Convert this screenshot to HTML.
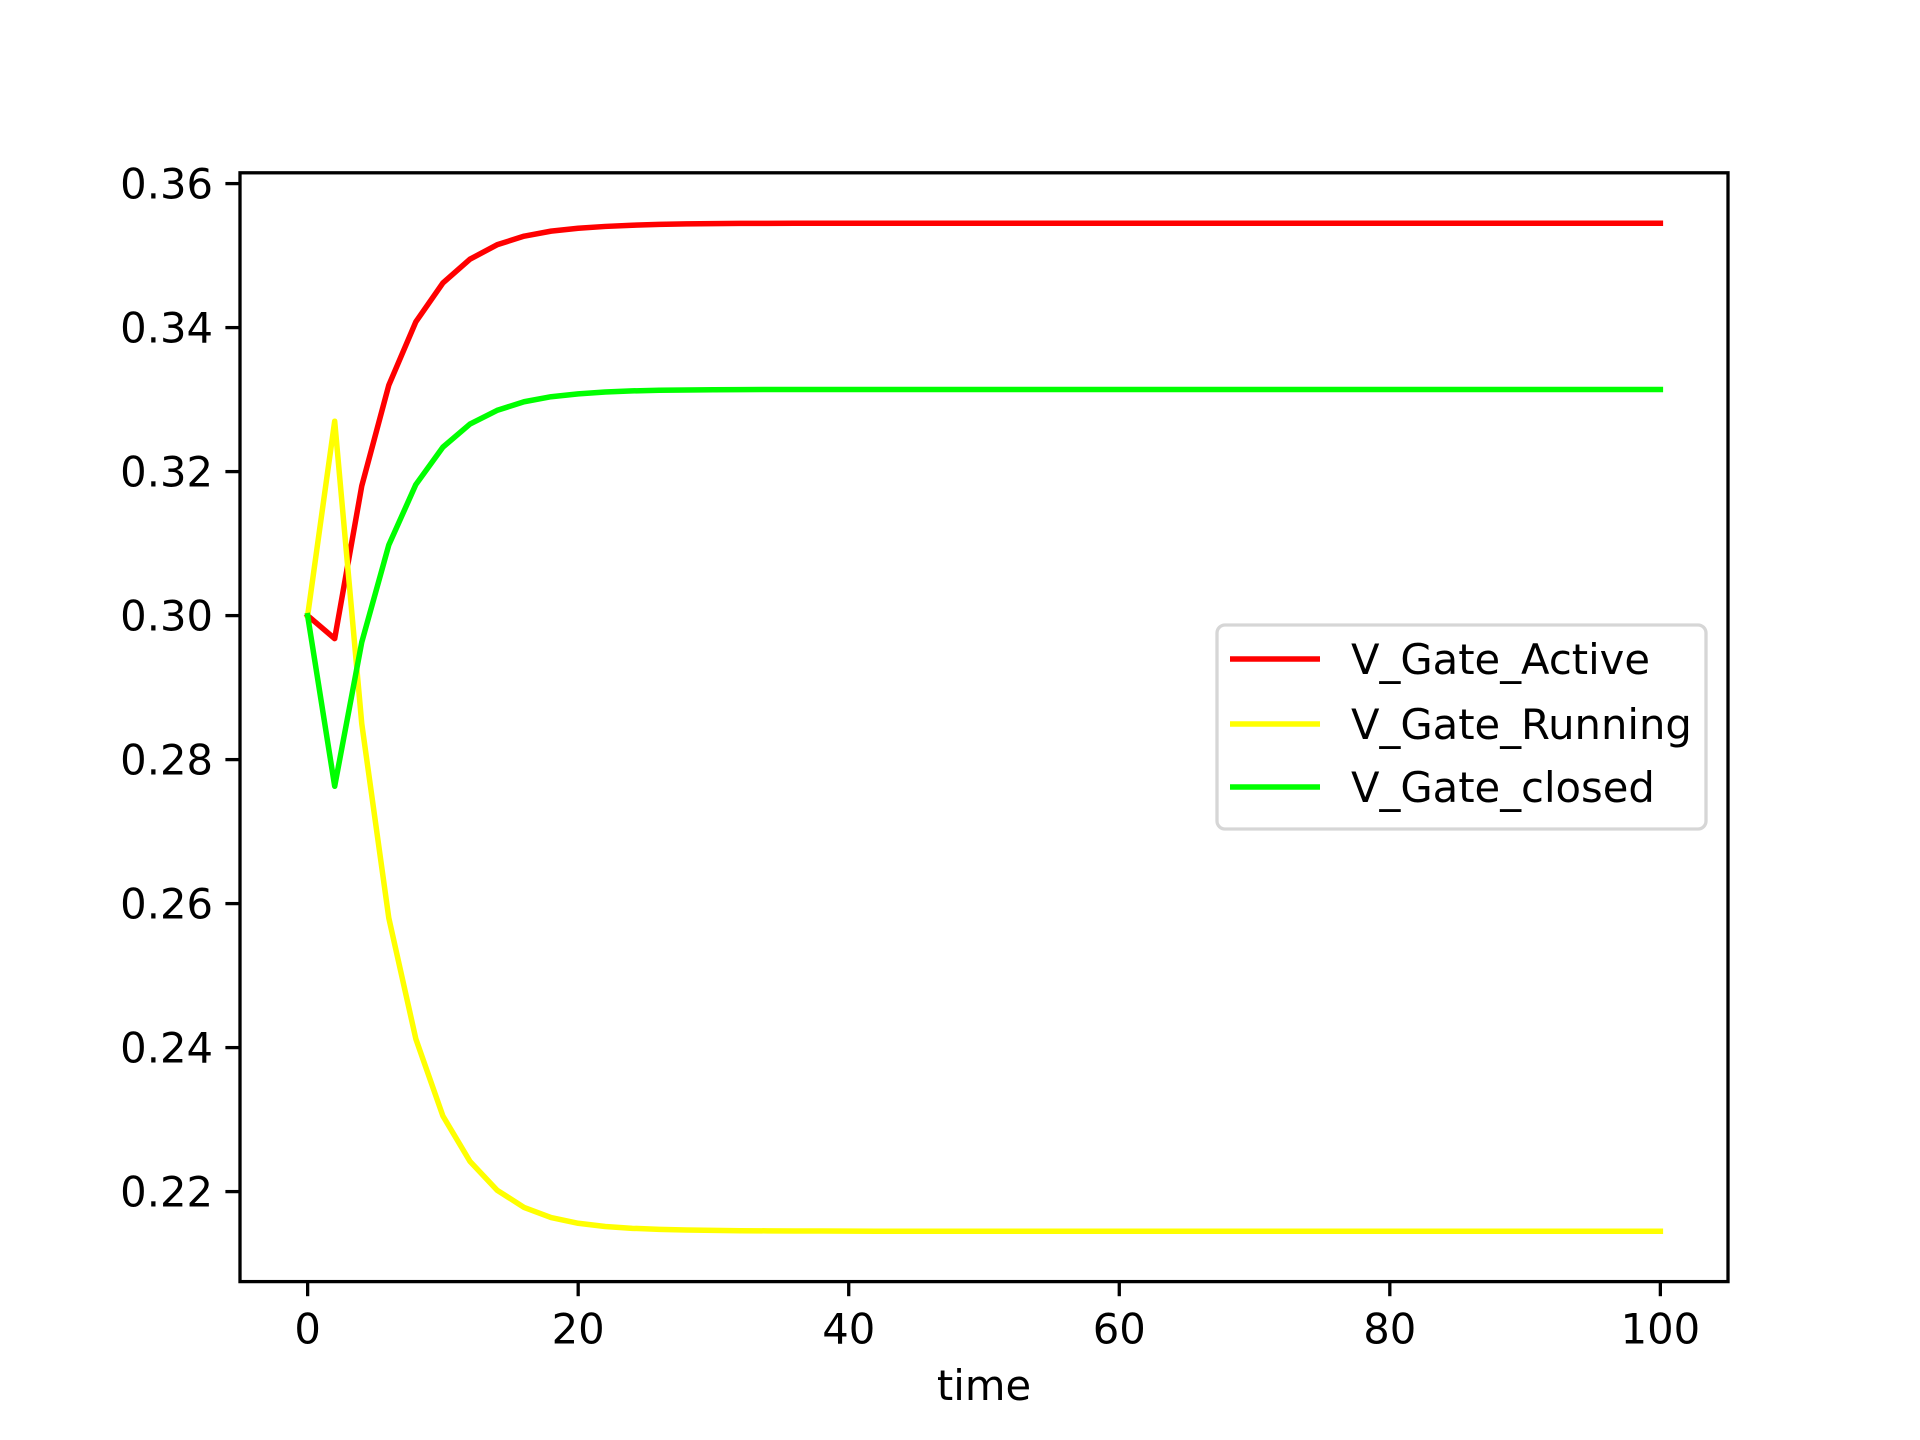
<!DOCTYPE html>
<html><head><meta charset="utf-8"><style>
html,body{margin:0;padding:0;background:#fff;}
svg{display:block;font-family:"DejaVu Sans","Liberation Sans",sans-serif;}
</style></head><body>
<svg id="chart" width="1920" height="1440" viewBox="0 0 1920 1440" xmlns="http://www.w3.org/2000/svg">
<rect width="1920" height="1440" fill="#fff"/>
<g id="plot"></g>
</svg>
<script>
const timePoints = [0,2,4,6,8,10,12,14,16,18,20,22,24,26,28,30,32,34,36,38,40,42,44,46,48,50,52,54,56,58,60,62,64,66,68,70,72,74,76,78,80,82,84,86,88,90,92,94,96,98,100];
const activeValues = [0.300,0.2968,0.318,0.332,0.3408,0.3462,0.3495,0.3515,0.3527,0.3534,0.3538,0.35405,0.35422,0.35433,0.35440,0.35444,0.35447,0.35448,0.35449,0.3545,0.3545,0.3545,0.3545,0.3545,0.3545,0.3545,0.3545,0.3545,0.3545,0.3545,0.3545,0.3545,0.3545,0.3545,0.3545,0.3545,0.3545,0.3545,0.3545,0.3545,0.3545,0.3545,0.3545,0.3545,0.3545,0.3545,0.3545,0.3545,0.3545,0.3545,0.3545];
const runningValues = [0.300,0.327,0.285,0.258,0.2412,0.2305,0.2242,0.2202,0.2178,0.2164,0.2156,0.21515,0.21490,0.21475,0.21466,0.21461,0.21457,0.21455,0.21453,0.21452,0.21451,0.2145,0.2145,0.2145,0.2145,0.2145,0.2145,0.2145,0.2145,0.2145,0.2145,0.2145,0.2145,0.2145,0.2145,0.2145,0.2145,0.2145,0.2145,0.2145,0.2145,0.2145,0.2145,0.2145,0.2145,0.2145,0.2145,0.2145,0.2145,0.2145,0.2145];
const closedValues = [0.300,0.2763,0.2963,0.3098,0.3182,0.3234,0.3266,0.3285,0.3297,0.3304,0.3308,0.33106,0.33121,0.33129,0.33134,0.33137,0.33139,0.3314,0.3314,0.3314,0.3314,0.3314,0.3314,0.3314,0.3314,0.3314,0.3314,0.3314,0.3314,0.3314,0.3314,0.3314,0.3314,0.3314,0.3314,0.3314,0.3314,0.3314,0.3314,0.3314,0.3314,0.3314,0.3314,0.3314,0.3314,0.3314,0.3314,0.3314,0.3314,0.3314,0.3314];
const xTicks = [0,20,40,60,80,100];
const yTicks = [0.22,0.24,0.26,0.28,0.30,0.32,0.34,0.36];
const seriesNames = ["V_Gate_Active","V_Gate_Running","V_Gate_closed"];

const L=240,R=1728,T=172.8,B=1281.6;
const xmin=-5,xmax=105;
const allY=activeValues.concat(runningValues,closedValues);
const dmin=Math.min(...allY),dmax=Math.max(...allY),pad=(dmax-dmin)*0.05;
const ymin=dmin-pad,ymax=dmax+pad;
const xs=v=>L+(v-xmin)/(xmax-xmin)*(R-L);
const ys=v=>B-(v-ymin)/(ymax-ymin)*(B-T);
const NS="http://www.w3.org/2000/svg";
const g=document.getElementById('plot');
function mk(tag,attrs,parent){const e=document.createElementNS(NS,tag);for(const k in attrs)e.setAttribute(k,attrs[k]);(parent||g).appendChild(e);return e;}

const colors=["#ff0000","#ffff00","#00ff00"];
const series=[activeValues,runningValues,closedValues];
const lineNames=["line-v-gate-active","line-v-gate-running","line-v-gate-closed"];
series.forEach((vals,i)=>{
  const d=vals.map((v,j)=>(j?'L':'M')+xs(timePoints[j]).toFixed(2)+' '+ys(v).toFixed(2)).join(' ');
  const p=mk('path',{d:d,fill:'none',stroke:colors[i],'stroke-width':5.5,'stroke-linejoin':'round','stroke-linecap':'square'});
  
  
});

const frame=mk('rect',{x:L,y:T,width:R-L,height:B-T,fill:'none',stroke:'#000','stroke-width':3.3});



xTicks.forEach(t=>{
  const x=xs(t);
  const tk=mk('line',{x1:x,x2:x,y1:B,y2:B+14.6,stroke:'#000','stroke-width':3.3});
  
  
  const tx=mk('text',{x:x,y:B+62,'font-size':41.7,'text-anchor':'middle',fill:'#000'});
  tx.textContent=t;
  
  
});
yTicks.forEach(t=>{
  const y=ys(t);
  const tk=mk('line',{x1:L-14.6,x2:L,y1:y,y2:y,stroke:'#000','stroke-width':3.3});
  
  
  const tx=mk('text',{x:L-27,y:y+15,'font-size':41.7,'text-anchor':'end',fill:'#000'});
  tx.textContent=t.toFixed(2);
  
  
});
const xl=mk('text',{x:(L+R)/2,y:1400,'font-size':41.7,'text-anchor':'middle',fill:'#000'});
xl.textContent='time';



const lg=mk('g',{});


mk('rect',{x:1217,y:625,width:489,height:204,rx:8,fill:'#fff','fill-opacity':0.8,stroke:'#d6d6d6','stroke-width':3.3},lg);
const rowsY=[659,724,787];
seriesNames.forEach((n,i)=>{
  const ln=mk('line',{x1:1230,x2:1320,y1:rowsY[i],y2:rowsY[i],stroke:colors[i],'stroke-width':5.5},lg);
  
  
  const tx=mk('text',{x:1351,y:rowsY[i]+15,'font-size':41.7,fill:'#000'},lg);
  tx.textContent=n;
  
  
});
</script>
</body></html>
